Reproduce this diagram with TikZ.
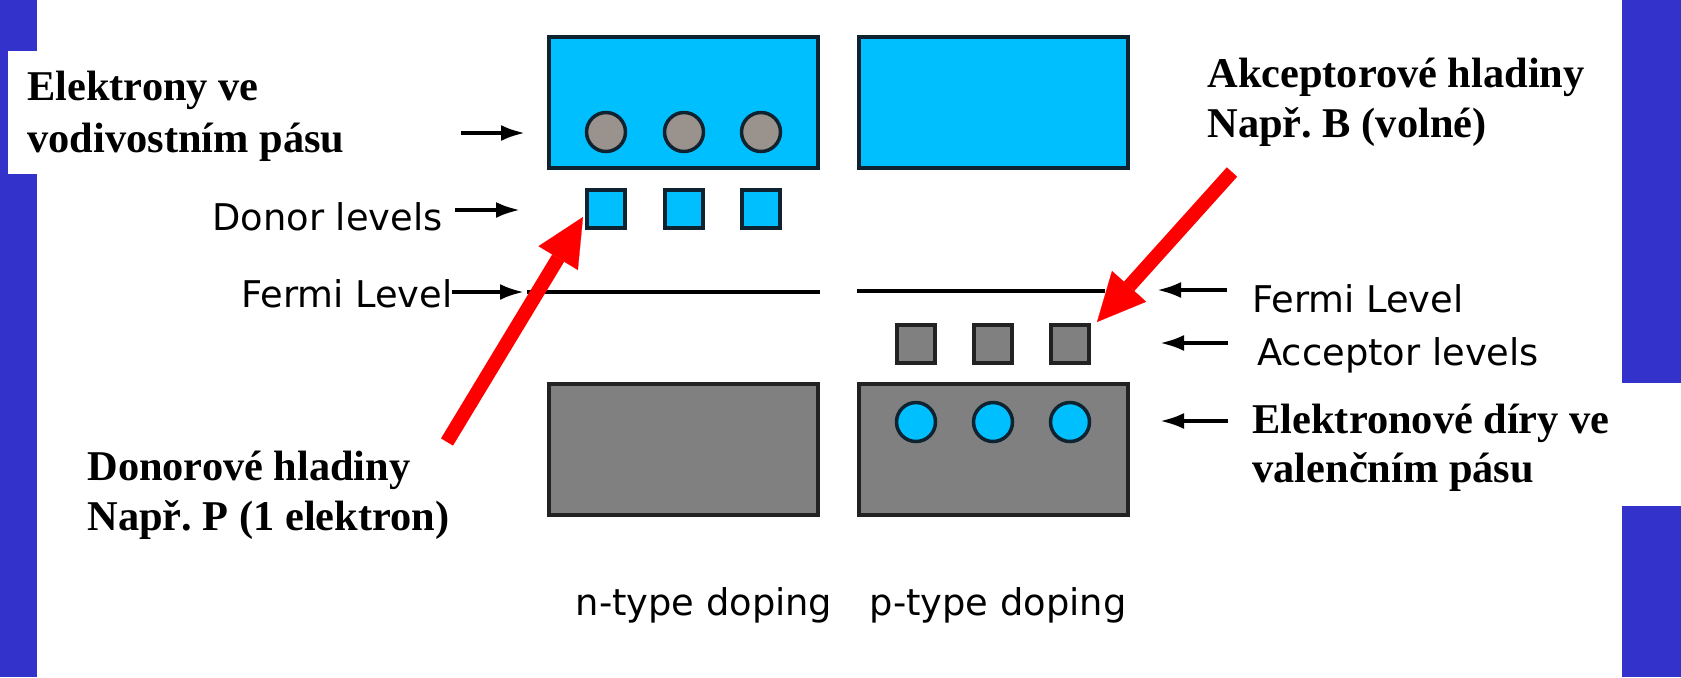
\documentclass[tikz,border=0pt]{standalone}
\usepackage{fontspec}
\setmainfont{Liberation Serif}
\newfontfamily\lsans{DejaVu Sans}
\usetikzlibrary{arrows.meta}
\definecolor{barblue}{HTML}{3333CC}
\definecolor{bandcyan}{HTML}{00BFFF}
\definecolor{bandgray}{HTML}{808080}
\definecolor{elgray}{HTML}{9A928C}
\definecolor{edgenavy}{HTML}{0E2230}
\definecolor{edgeblack}{HTML}{222222}
\tikzset{
  cband/.style={rectangle, draw=edgenavy, line width=2pt, fill=bandcyan, minimum width=134.5pt, minimum height=65.5pt, inner sep=0pt, outer sep=0pt},
  gband/.style={rectangle, draw=edgeblack, line width=2pt, fill=bandgray, minimum width=134.5pt, minimum height=65.5pt, inner sep=0pt, outer sep=0pt},
  elec/.style={circle, draw=edgenavy, line width=1.75pt, fill=elgray, minimum size=19.5pt, inner sep=0pt},
  hole/.style={circle, draw=edgenavy, line width=1.75pt, fill=bandcyan, minimum size=19.5pt, inner sep=0pt},
  dlev/.style={rectangle, draw=edgenavy, line width=1.75pt, fill=bandcyan, minimum size=19pt, inner sep=0pt},
  alev/.style={rectangle, draw=edgeblack, line width=1.75pt, fill=bandgray, minimum size=19pt, inner sep=0pt},
  lab/.style={font=\lsans\fontsize{18.4pt}{22pt}\selectfont, anchor=base west, inner sep=0pt},
  blab/.style={font=\bfseries\fontsize{21.2pt}{25pt}\selectfont, anchor=base west, inner sep=0pt},
  sarrow/.style={line width=1.9pt, -{Latex[length=12pt,width=8pt]}},
  fermi/.style={line width=1.75pt},
  redarrow/.style={draw=red, line width=7pt, -{Triangle[length=24pt,width=23pt,line width=0.1pt]}}
}
\begin{document}
\frenchspacing
\begin{tikzpicture}[x=0.5pt,y=-0.5pt]
\fill[white] (0,0) rectangle (1681,677);
\useasboundingbox (0,0) rectangle (1681,677);
% side bars
\fill[barblue] (0,0) rectangle (37,677);
\fill[white] (8,51) rectangle (40,174);
\fill[barblue] (1622,0) rectangle (1681,383);
\fill[barblue] (1622,506) rectangle (1681,677);
% bands
\node[cband] (cbn) at (683.5,102.5) {};
\node[cband] (cbp) at (993.5,102.5) {};
\node[gband] (vbn) at (683.5,449.5) {};
\node[gband] (vbp) at (993.5,449.5) {};
\foreach \i/\x in {1/606,2/684,3/761} {
  \node[elec] (e\i) at (\x,132) {};
  \node[dlev] (d\i) at (\x,209) {};
}
\foreach \i/\x in {1/916,2/993,3/1070} {
  \node[alev] (a\i) at (\x,344) {};
  \node[hole] (h\i) at (\x,422) {};
}
% Fermi levels
\coordinate (fnl) at (527,292);
\coordinate (fnr) at (820,292);
\coordinate (fpl) at (857,291);
\coordinate (fpr) at (1105,291);
\draw[fermi] (fnl) -- (fnr);
\draw[fermi] (fpl) -- (fpr);
% labels
\node[blab] (elk1) at (27,100) {Elektrony ve};
\node[blab] (elk2) at (27,152) {vodivostním pásu};
\node[lab] (donl) at (212,230) {Donor levels};
\node[lab] (ferl) at (241,307) {Fermi Level};
\node[blab] (don1) at (87,480) {Donorové hladiny};
\node[blab] (don2) at (87,530) {Např. P (1 elektron)};
\node[blab] (akc1) at (1207,87) {Akceptorové hladiny};
\node[blab] (akc2) at (1207,137) {Např. B (volné)};
\node[lab] (ferr) at (1252,312) {Fermi Level};
\node[lab] (accl) at (1257,365) {Acceptor levels};
\node[blab] (dir1) at (1252,433) {Elektronové díry ve};
\node[blab] (dir2) at (1252,482) {valenčním pásu};
\node[lab, anchor=base] (ntyp) at (704,615) {n-type doping};
\node[lab, anchor=base] (ptyp) at (998,615) {p-type doping};
% small black arrows
\coordinate (s1a) at (461,133); \coordinate (s1b) at (525,133);
\coordinate (s2a) at (455,210); \coordinate (s2b) at (520,210);
\coordinate (s3a) at (452,292); \coordinate (s3b) at (524,292);
\coordinate (s4a) at (1227,290); \coordinate (s4b) at (1157,290);
\coordinate (s5a) at (1228,343); \coordinate (s5b) at (1160,343);
\coordinate (s6a) at (1228,421); \coordinate (s6b) at (1160,421);
\draw[sarrow] (s1a) -- (s1b);
\draw[sarrow] (s2a) -- (s2b);
\draw[sarrow] (s3a) -- (s3b);
\draw[sarrow] (s4a) -- (s4b);
\draw[sarrow] (s5a) -- (s5b);
\draw[sarrow] (s6a) -- (s6b);
% red arrows
\coordinate (rdt) at (447,442); \coordinate (rdh) at (583,217);
\coordinate (rat) at (1232,172); \coordinate (rah) at (1097,322);
\draw[redarrow] (rdt) -- (rdh);
\draw[redarrow] (rat) -- (rah);
\end{tikzpicture}
\end{document}
